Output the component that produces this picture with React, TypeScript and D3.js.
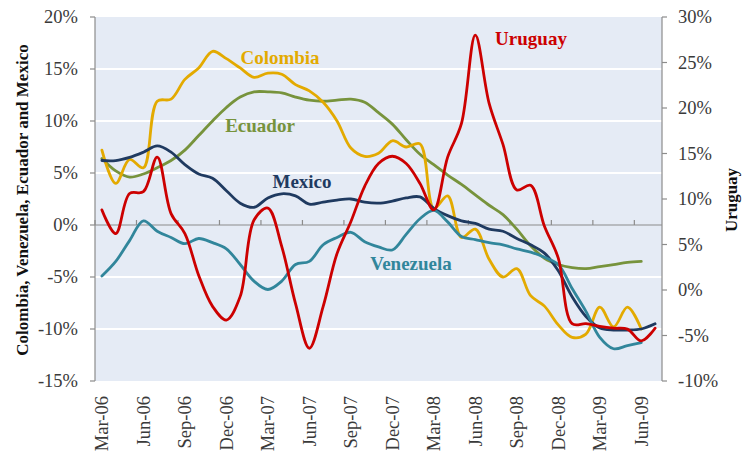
import React, { useEffect, useRef } from 'react';
import * as d3 from 'd3';

// monthly categories, Mar-06 .. Jul-09
const months = [
  'Mar-06', 'Apr-06', 'May-06', 'Jun-06', 'Jul-06', 'Aug-06', 'Sep-06', 'Oct-06', 'Nov-06', 'Dec-06',
  'Jan-07', 'Feb-07', 'Mar-07', 'Apr-07', 'May-07', 'Jun-07', 'Jul-07', 'Aug-07', 'Sep-07', 'Oct-07',
  'Nov-07', 'Dec-07', 'Jan-08', 'Feb-08', 'Mar-08', 'Apr-08', 'May-08', 'Jun-08', 'Jul-08', 'Aug-08',
  'Sep-08', 'Oct-08', 'Nov-08', 'Dec-08', 'Jan-09', 'Feb-09', 'Mar-09', 'Apr-09', 'May-09', 'Jun-09',
  'Jul-09'
];

// left axis series (%)
const colombia = [
  7.2, 4.0, 6.3, 5.5, 11.9, 12.1, 14.0, 15.1, 16.7, 16.0,
  15.1, 14.2, 14.6, 14.5, 13.5, 12.9, 11.8, 10.0, 7.4, 6.6,
  6.9, 8.1, 7.5, 7.8, 1.6, 2.8, -1.2, -0.4, -3.3, -5.0,
  -4.2, -6.8, -7.8, -9.6, -10.8, -10.5, -7.9, -9.8, -7.9, -10.0,
  null
];
const ecuador = [
  6.4, 5.2, 4.6, 4.9, 5.5, 6.2, 7.2, 8.6, 10.0, 11.3,
  12.3, 12.8, 12.8, 12.7, 12.3, 12.0, 11.9, 12.0, 12.1, 11.8,
  10.8, 9.7, 8.2, 6.8, 5.8, 4.8, 3.9, 2.9, 1.9, 1.0,
  -0.4, -2.0, -3.2, -3.8, -4.1, -4.2, -4.0, -3.8, -3.6, -3.5,
  null
];
const mexico = [
  6.2, 6.2, 6.5, 7.0, 7.6, 7.0, 5.8, 4.9, 4.5, 3.3,
  2.1, 1.7, 2.6, 3.0, 2.8, 2.0, 2.2, 2.4, 2.5, 2.2,
  2.1, 2.3, 2.6, 2.7, 1.6, 0.9, 0.4, 0.15, -0.4, -0.6,
  -1.3, -1.9, -2.7, -4.4, -6.9, -8.8, -9.9, -10.1, -10.1, -10.0,
  -9.5
];
const venezuela = [
  -4.9, -3.5, -1.5, 0.4, -0.6, -1.2, -1.8, -1.3, -1.7, -2.3,
  -3.8, -5.4, -6.2, -5.4, -3.8, -3.5, -1.9, -1.2, -0.7, -1.6,
  -2.1, -2.4, -0.9, 0.6, 1.4, 0.3, -1.1, -1.4, -1.7, -1.9,
  -2.3, -2.6, -3.1, -3.8, -6.1, -8.3, -10.8, -11.9, -11.6, -11.3,
  null
];
// right axis series (%)
const uruguay = [
  8.8, 6.2, 10.6, 10.8, 14.6, 8.4, 6.2, 1.6, -1.8, -3.3,
  -0.7, 7.7, 9.0, 4.8, -1.5, -6.4, -1.8, 4.0, 7.5, 11.4,
  13.9, 14.7, 13.9, 11.7, 8.8, 14.6, 18.3, 28.0, 20.5, 16.0,
  11.0, 11.5, 7.0, 3.5, -3.7, -3.7, -4.0, -4.2, -4.3, -5.6,
  -4.2
];

const leftTicks = [-15, -10, -5, 0, 5, 10, 15, 20];
const rightTicks = [-10, -5, 0, 5, 10, 15, 20, 25, 30];

const FONT = '"Liberation Serif", "Times New Roman", serif';

const App = () => {
  const svgRef = useRef(null);

  useEffect(() => {
    const svg = d3.select(svgRef.current);
    svg.selectAll('*').remove();

    const width = 742;
    const height = 452;
    const margin = { top: 17, right: 80, bottom: 71, left: 95 };
    const x0 = margin.left;
    const x1 = width - margin.right;
    const y0 = margin.top;
    const y1 = height - margin.bottom;

    const x = d3.scaleBand().domain(months).range([x0, x1]).padding(0);
    const cx = (i) => x(months[i]) + x.bandwidth() / 2;
    const yL = d3.scaleLinear().domain([-15, 20]).range([y1, y0]);
    const yR = d3.scaleLinear().domain([-10, 30]).range([y1, y0]);

    // plot background
    svg.append('rect')
      .attr('x', x0).attr('y', y0)
      .attr('width', x1 - x0).attr('height', y1 - y0)
      .attr('fill', '#e5ebf5');

    // gridlines
    svg.append('g')
      .selectAll('line')
      .data(leftTicks.filter(t => t !== 0 && t !== -15 && t !== 20))
      .enter()
      .append('line')
      .attr('x1', x0).attr('x2', x1)
      .attr('y1', d => yL(d)).attr('y2', d => yL(d))
      .attr('stroke', '#ffffff')
      .attr('stroke-width', 2);

    const axisColor = '#8c8c8c';

    // left axis
    svg.append('line')
      .attr('x1', x0).attr('x2', x0).attr('y1', y0).attr('y2', y1)
      .attr('stroke', axisColor).attr('stroke-width', 1.2);
    svg.append('g').selectAll('line').data(leftTicks).enter().append('line')
      .attr('x1', x0 - 5).attr('x2', x0)
      .attr('y1', d => yL(d)).attr('y2', d => yL(d))
      .attr('stroke', axisColor).attr('stroke-width', 1.2);
    svg.append('g').selectAll('text').data(leftTicks).enter().append('text')
      .attr('x', 78)
      .attr('y', d => yL(d))
      .attr('dy', '0.34em')
      .attr('text-anchor', 'end')
      .style('font-family', FONT)
      .style('font-size', '18.5px')
      .style('fill', '#3a3a3a')
      .text(d => `${d}%`);

    // right axis
    svg.append('line')
      .attr('x1', x1).attr('x2', x1).attr('y1', y0).attr('y2', y1)
      .attr('stroke', axisColor).attr('stroke-width', 1.2);
    svg.append('g').selectAll('line').data(rightTicks).enter().append('line')
      .attr('x1', x1).attr('x2', x1 + 5)
      .attr('y1', d => yR(d)).attr('y2', d => yR(d))
      .attr('stroke', axisColor).attr('stroke-width', 1.2);
    svg.append('g').selectAll('text').data(rightTicks).enter().append('text')
      .attr('x', 678)
      .attr('y', d => yR(d))
      .attr('dy', '0.34em')
      .attr('text-anchor', 'start')
      .style('font-family', FONT)
      .style('font-size', '18.5px')
      .style('fill', '#3a3a3a')
      .text(d => `${d}%`);

    // category axis at 0%
    const zeroY = yL(0);
    svg.append('line')
      .attr('x1', x0).attr('x2', x1).attr('y1', zeroY).attr('y2', zeroY)
      .attr('stroke', axisColor).attr('stroke-width', 1.2);
    const tickIdx = months.map((m, i) => i).filter(i => i % 3 === 0);
    svg.append('g').selectAll('line').data(tickIdx).enter().append('line')
      .attr('x1', i => x(months[i])).attr('x2', i => x(months[i]))
      .attr('y1', zeroY - 5).attr('y2', zeroY)
      .attr('stroke', axisColor).attr('stroke-width', 1.2);
    svg.append('g').selectAll('text').data(tickIdx).enter().append('text')
      .attr('transform', i => `translate(${cx(i)},${y1 + 15}) rotate(-90)`)
      .attr('dy', '0.34em')
      .attr('text-anchor', 'end')
      .style('font-family', FONT)
      .style('font-size', '18.5px')
      .style('fill', '#3a3a3a')
      .text(i => months[i]);

    // axis titles
    svg.append('text')
      .attr('transform', 'translate(28,200) rotate(-90)')
      .attr('text-anchor', 'middle')
      .style('font-family', FONT)
      .style('font-size', '17px')
      .style('font-weight', 'bold')
      .style('fill', '#111')
      .text('Colombia, Venezuela, Ecuador and Mexico');
    svg.append('text')
      .attr('transform', 'translate(737,200) rotate(-90)')
      .attr('text-anchor', 'middle')
      .style('font-family', FONT)
      .style('font-size', '17px')
      .style('font-weight', 'bold')
      .style('fill', '#111')
      .text('Uruguay');

    // series
    const series = [
      { name: 'Ecuador', values: ecuador, scale: yL, color: '#77933c', lx: 260, ly: 132 },
      { name: 'Colombia', values: colombia, scale: yL, color: '#e3aa00', lx: 280, ly: 64 },
      { name: 'Mexico', values: mexico, scale: yL, color: '#1f3a60', lx: 302, ly: 188 },
      { name: 'Venezuela', values: venezuela, scale: yL, color: '#31869b', lx: 411, ly: 270 },
      { name: 'Uruguay', values: uruguay, scale: yR, color: '#cc0000', lx: 531, ly: 45 }
    ];

    series.forEach(s => {
      const line = d3.line()
        .defined(d => d != null)
        .x((d, i) => cx(i))
        .y(d => s.scale(d))
        .curve(d3.curveCatmullRom.alpha(0.5));

      svg.append('path')
        .datum(s.values)
        .attr('d', line)
        .attr('fill', 'none')
        .attr('stroke', s.color)
        .attr('stroke-width', 2.8)
        .attr('stroke-linejoin', 'round')
        .attr('stroke-linecap', 'round');
    });

    series.forEach(s => {
      svg.append('text')
        .attr('x', s.lx)
        .attr('y', s.ly)
        .attr('text-anchor', 'middle')
        .style('font-family', FONT)
        .style('font-size', '19px')
        .style('font-weight', 'bold')
        .style('fill', s.color)
        .text(s.name);
    });
  }, []);

  return (
    <svg
      ref={svgRef}
      width={742}
      height={452}
      style={{ position: 'absolute', left: 0, top: 0, background: '#ffffff' }}
    />
  );
};

export default App;
